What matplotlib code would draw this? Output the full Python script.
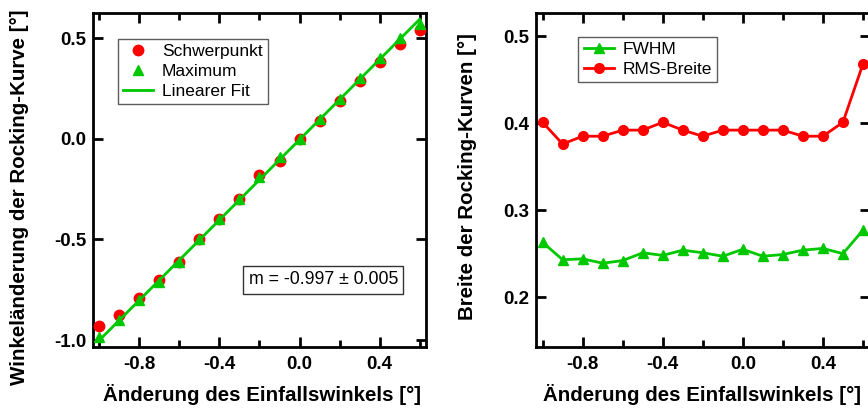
import numpy as np
import matplotlib
matplotlib.use("Agg")
import matplotlib.pyplot as plt
from matplotlib.ticker import MultipleLocator, FormatStrFormatter

plt.rcParams['font.family'] = ['Liberation Sans', 'DejaVu Sans']

# Einfallswinkel-Änderung
winkel = [-1.0, -0.9, -0.8, -0.7, -0.6, -0.5, -0.4, -0.3, -0.2, -0.1,
          0.0, 0.1, 0.2, 0.3, 0.4, 0.5, 0.6]

# Lage der Rocking-Kurve
schwerpunkt = [-0.93, -0.875, -0.79, -0.70, -0.61, -0.50, -0.40, -0.30, -0.18,
               -0.11, 0.00, 0.09, 0.19, 0.29, 0.38, 0.47, 0.54]
maximum = [-0.985, -0.90, -0.80, -0.71, -0.61, -0.50, -0.40, -0.30, -0.19,
           -0.09, 0.00, 0.10, 0.20, 0.30, 0.40, 0.50, 0.57]
fit_m = -0.997
fit_dm = 0.005
fit_b = -0.004

# Breite der Rocking-Kurven
fwhm = [0.263, 0.243, 0.244, 0.239, 0.242, 0.251, 0.248, 0.254, 0.251, 0.247,
        0.255, 0.247, 0.249, 0.254, 0.256, 0.250, 0.277]
rms_breite = [0.401, 0.376, 0.385, 0.385, 0.392, 0.392, 0.401, 0.392, 0.385,
              0.392, 0.392, 0.392, 0.392, 0.385, 0.385, 0.401, 0.468]

rot = '#ff0000'
gruen = '#00c800'
x_titel = 'Änderung des Einfallswinkels [°]'

fig = plt.figure(figsize=(8.68, 4.08), dpi=100)
ax1 = fig.add_axes([0.1068, 0.1502, 0.3843, 0.8187])
ax2 = fig.add_axes([0.6175, 0.1502, 0.3843, 0.8187])


def rahmen(ax):
    for s in ax.spines.values():
        s.set_linewidth(2.0)
    ax.tick_params(which='both', direction='in', top=True, right=True,
                   width=2.0, labelsize=13.5)
    ax.tick_params(axis='y', pad=4.5)
    ax.tick_params(axis='x', pad=7)
    ax.tick_params(which='major', length=7)
    ax.tick_params(which='minor', length=5)
    ax.xaxis.set_major_locator(MultipleLocator(0.4))
    ax.xaxis.set_minor_locator(MultipleLocator(0.2))
    ax.xaxis.set_major_formatter(FormatStrFormatter('%.1f'))
    ax.yaxis.set_major_formatter(FormatStrFormatter('%.1f'))
    ax.set_xlim(-1.033, 0.633)
    for lbl in ax.get_xticklabels() + ax.get_yticklabels():
        lbl.set_fontweight('bold')


def legende(ax, anker):
    leg = ax.legend(loc='upper left', bbox_to_anchor=anker,
                    fontsize=12.5, frameon=True, fancybox=False,
                    edgecolor='#333333', borderpad=0.3, handlelength=1.75,
                    handletextpad=0.5, labelspacing=0.27, borderaxespad=0)
    leg.get_frame().set_linewidth(1.0)
    return leg


# linke Grafik: Lage der Rocking-Kurve
ax1.plot(winkel, schwerpunkt, 'o', color=rot, ms=7.5, mec=rot,
         label='Schwerpunkt', zorder=3)
ax1.plot(winkel, maximum, '^', color=gruen, ms=7.5, mec=gruen,
         label='Maximum', zorder=4)
xf = np.array([winkel[0], winkel[-1]])
ax1.plot(xf, -fit_m * xf + fit_b, '-', color=gruen, lw=2.0,
         label='Linearer Fit', zorder=5)
ax1.set_ylim(-1.033, 0.627)
ax1.yaxis.set_major_locator(MultipleLocator(0.5))
rahmen(ax1)
ax1.set_xlabel(x_titel, fontsize=14.8, fontweight='bold')
ax1.set_ylabel('Winkeländerung der Rocking-Kurve [°]', fontsize=14.8,
               fontweight='bold')
ax1.xaxis.set_label_coords(0.508, -0.112)
ax1.yaxis.set_label_coords(-0.218, 0.447)
ax1.yaxis.label.set_verticalalignment('center')
legende(ax1, (0.075, 0.922))
ax1.text(0.691, 0.2006, f'm = {fit_m:.3f} ± {fit_dm:.3f}',
         transform=ax1.transAxes, ha='center', va='center', fontsize=12.8,
         bbox=dict(boxstyle='square,pad=0.3', fc='white', ec='#333333', lw=1.0))

# rechte Grafik: Breite der Rocking-Kurven
ax2.plot(winkel, fwhm, '-^', color=gruen, mec=gruen, ms=7, lw=2.0,
         label='FWHM')
ax2.plot(winkel, rms_breite, '-o', color=rot, mec=rot, ms=7, lw=2.0,
         label='RMS-Breite')
ax2.set_ylim(0.143, 0.527)
ax2.yaxis.set_major_locator(MultipleLocator(0.1))
rahmen(ax2)
ax2.set_xlabel(x_titel, fontsize=14.8, fontweight='bold')
ax2.set_ylabel('Breite der Rocking-Kurven [°]', fontsize=14.8,
               fontweight='bold')
ax2.xaxis.set_label_coords(0.499, -0.112)
ax2.yaxis.set_label_coords(-0.204, 0.509)
ax2.yaxis.label.set_verticalalignment('center')
legende(ax2, (0.127, 0.927))

fig.savefig('out.png', dpi=100)
